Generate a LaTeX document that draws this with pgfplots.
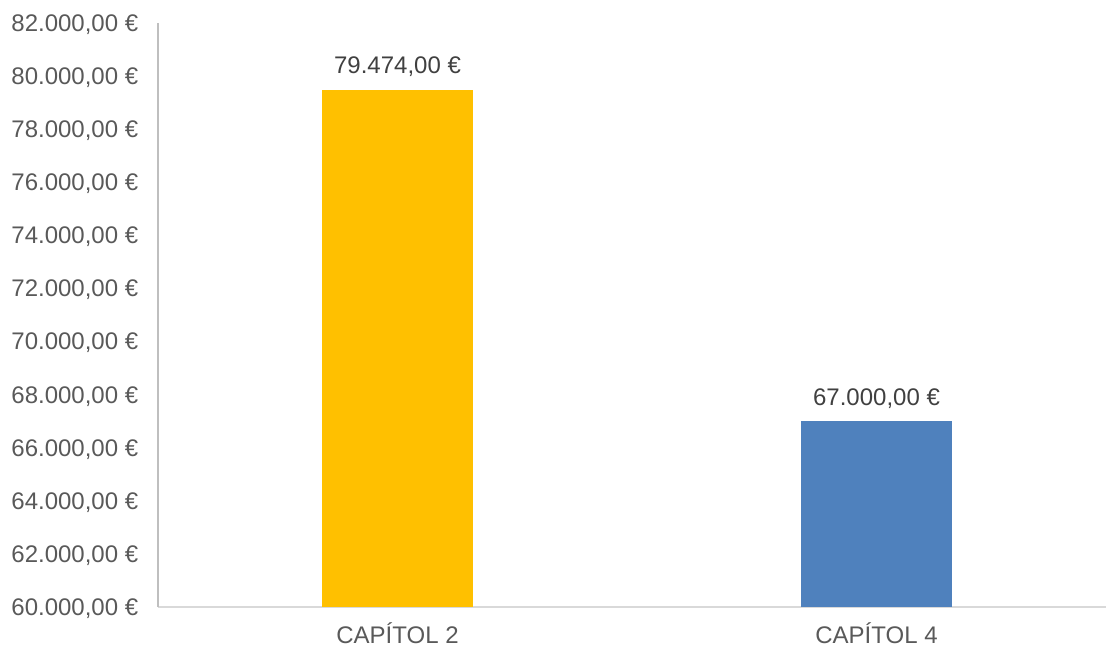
\documentclass[border=0pt]{standalone}
\usepackage{pgfplots}
\pgfplotsset{compat=1.18}
\usepackage{fontspec}
\setmainfont{Liberation Sans}
\definecolor{ylw}{HTML}{FFC000}
\definecolor{blu}{HTML}{4F81BD}
\definecolor{ticktxt}{HTML}{595959}
\definecolor{lbl}{HTML}{404040}
\definecolor{xaxl}{HTML}{D9D9D9}
\definecolor{yaxl}{HTML}{BFBFBF}
\begin{document}
\begin{tikzpicture}
\begin{axis}[
  scale only axis, width=479pt, height=292.25pt,
  xmin=-0.5, xmax=1.5, ymin=60000, ymax=82000,
  axis x line*=bottom, axis y line*=left,
  x axis line style={xaxl, line width=1pt},
  y axis line style={yaxl, line width=1pt},
  xtick={0,1}, xticklabels={CAPÍTOL 2, CAPÍTOL 4},
  ytick={60000,62000,...,82000},
  scaled y ticks=false,
  major tick length=0pt,
  tick label style={font=\fontsize{12}{14}\selectfont, text=ticktxt},
  xticklabel style={anchor=base, yshift=-18pt},
  yticklabel style={anchor=base east, inner sep=0pt, xshift=-9.7pt, yshift=-4.3pt},
  /pgf/number format/.cd, fixed, fixed zerofill, precision=2, use comma, 1000 sep={.}, assume math mode=true,
  /pgfplots/.cd,
  yticklabel={\pgfmathprintnumber{\tick}~€},
  ybar, bar width=75.5pt,
  point meta=y,
  nodes near coords={\pgfmathprintnumber{\pgfplotspointmeta}~€},
  nodes near coords style={font=\fontsize{12}{14}\selectfont, text=lbl, anchor=base, yshift=8pt},
]
\addplot[fill=ylw, draw=none, bar shift=0pt] coordinates {(0,79474)};
\addplot[fill=blu, draw=none, bar shift=0pt] coordinates {(1,67000)};
\coordinate (bl) at ([xshift=-79pt,yshift=-21pt]rel axis cs:0,0);
\coordinate (tr) at ([xshift=474pt,yshift=303.5pt]rel axis cs:0,0);
\end{axis}
\pgfresetboundingbox
\path[use as bounding box] (bl) rectangle (tr);
\end{tikzpicture}
\end{document}
